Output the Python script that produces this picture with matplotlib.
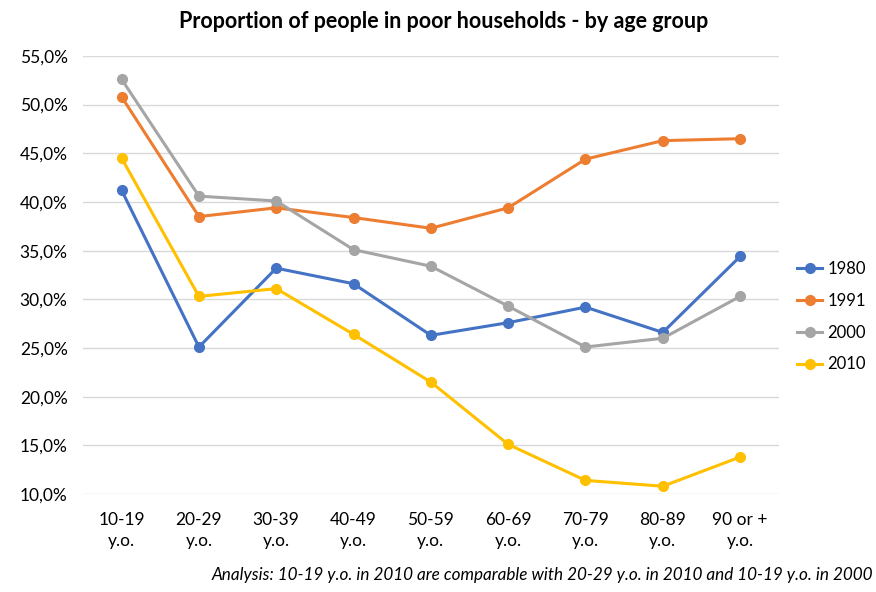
import matplotlib.pyplot as plt
from matplotlib.ticker import FuncFormatter

plt.rcParams['font.family'] = ['Lato', 'DejaVu Sans']

age_groups = ["10-19\ny.o.", "20-29\ny.o.", "30-39\ny.o.", "40-49\ny.o.", "50-59\ny.o.",
              "60-69\ny.o.", "70-79\ny.o.", "80-89\ny.o.", "90 or +\ny.o."]
years = ["1980", "1991", "2000", "2010"]
v1980 = [41.2, 25.1, 33.2, 31.6, 26.3, 27.6, 29.2, 26.6, 34.4]
v1991 = [50.8, 38.5, 39.4, 38.4, 37.3, 39.4, 44.4, 46.3, 46.5]
v2000 = [52.6, 40.6, 40.1, 35.1, 33.4, 29.3, 25.1, 26.0, 30.3]
v2010 = [44.5, 30.3, 31.1, 26.4, 21.5, 15.1, 11.4, 10.8, 13.8]
colors = ["#4472C4", "#ED7D31", "#A5A5A5", "#FFC000"]

fig = plt.figure(figsize=(8.76, 5.92), dpi=100)
ax = fig.add_axes([0.0947, 0.1655, 0.7943, 0.74])

x = range(len(age_groups))
for vals, yr, c in zip([v1980, v1991, v2000, v2010], years, colors):
    ax.plot(x, vals, color=c, lw=2.2, marker="o", markersize=7, label=yr)

ax.set_xlim(-0.5, len(age_groups) - 0.5)
ax.set_ylim(10, 55)
ax.set_yticks([10, 15, 20, 25, 30, 35, 40, 45, 50, 55])
ax.yaxis.set_major_formatter(FuncFormatter(lambda v, p: f"{v:.1f}%".replace(".", ",")))
ax.set_xticks(list(x))
ax.set_xticklabels(age_groups, linespacing=1.35)
ax.tick_params(length=0, labelsize=12.5, colors="#000000")
ax.tick_params(axis="x", pad=13)
ax.tick_params(axis="y", pad=11)
ax.grid(axis="y", color="#D9D9D9", lw=1)
ax.set_axisbelow(True)
for s in ax.spines.values():
    s.set_visible(False)

fig.text(0.506, 0.963, "Proportion of people in poor households - by age group",
         ha="center", va="center", fontsize=15.5, fontweight="bold")
ax.legend(loc="center left", bbox_to_anchor=(1.005, 0.405), frameon=False,
          fontsize=12, handlelength=1.5, handletextpad=0.3, labelspacing=0.95)
fig.text(0.997, 0.015, "Analysis: 10-19 y.o. in 2010 are comparable with 20-29 y.o. in 2010 and 10-19 y.o. in 2000",
         ha="right", va="bottom", fontsize=12.3, style="italic")

fig.savefig("out.png", dpi=100)
